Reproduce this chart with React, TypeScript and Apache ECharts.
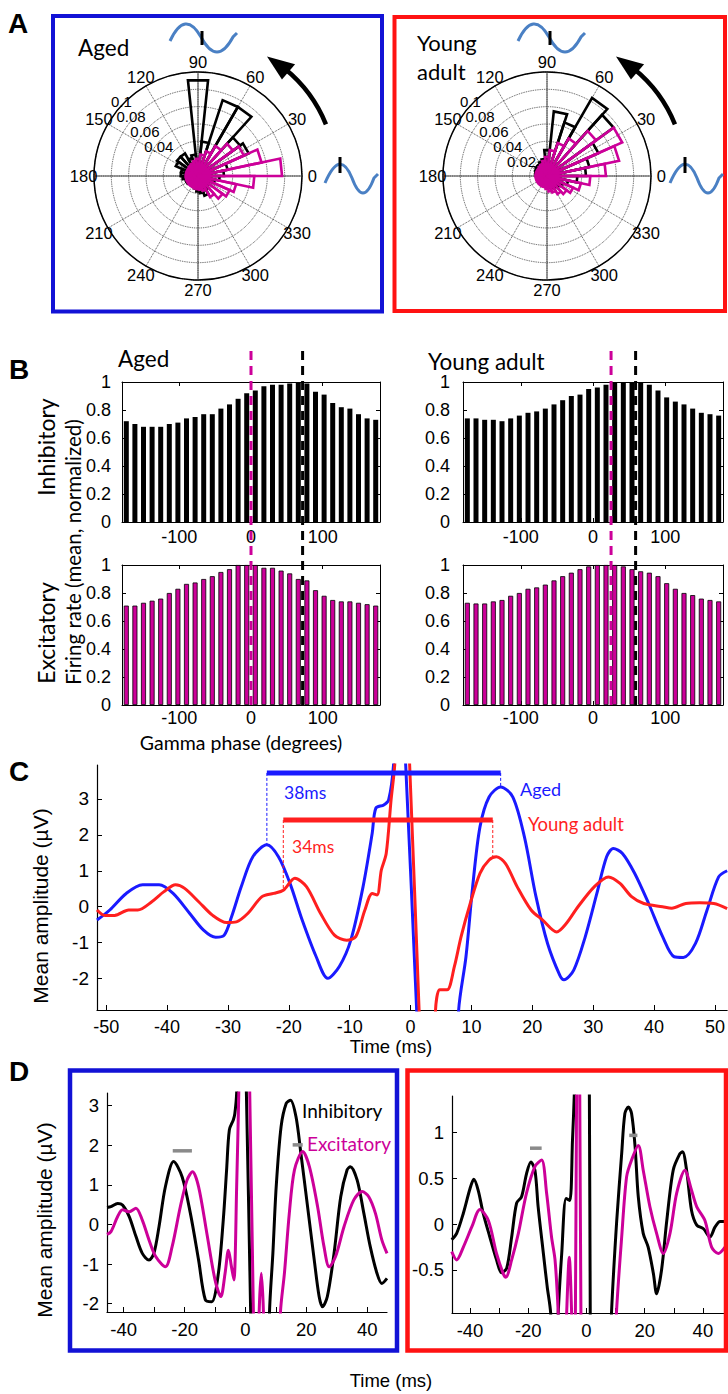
import React, { useEffect, useRef } from 'react';
import * as echarts from 'echarts';

// ---------------- Panel A : rose histograms (12 degree bins) ----------------
const ROSE_BIN_CENTERS = [6, 18, 30, 42, 54, 66, 78, 90, 102, 114, 126, 138, 150, 162, 174, 186, 198, 210, 222, 234, 246, 258, 270, 282, 294, 306, 318, 330, 342, 354];
const ROSE_BIN_HALF = 6;
const ROSE_R_MAX = 0.12;
const ROSE_AGED_INH = [0.03, 0.035, 0.064, 0.06, 0.092, 0.092, 0.04, 0.111, 0.025, 0.022, 0.03, 0.03, 0.028, 0.02, 0.02, 0.018, 0.015, 0.015, 0.012, 0.012, 0.012, 0.015, 0.018, 0.02, 0.024, 0.018, 0.015, 0.015, 0.02, 0.025];
const ROSE_AGED_EXC = [0.097, 0.075, 0.058, 0.05, 0.04, 0.03, 0.025, 0.02, 0.018, 0.016, 0.015, 0.014, 0.014, 0.014, 0.014, 0.014, 0.014, 0.014, 0.014, 0.014, 0.014, 0.015, 0.015, 0.016, 0.018, 0.028, 0.035, 0.04, 0.045, 0.065];
const ROSE_YOUNG_INH = [0.045, 0.05, 0.065, 0.095, 0.104, 0.065, 0.075, 0.03, 0.02, 0.018, 0.016, 0.016, 0.015, 0.014, 0.013, 0.012, 0.012, 0.012, 0.012, 0.012, 0.012, 0.012, 0.013, 0.014, 0.015, 0.016, 0.018, 0.02, 0.025, 0.035];
const ROSE_YOUNG_EXC = [0.068, 0.085, 0.095, 0.07, 0.05, 0.04, 0.03, 0.022, 0.018, 0.015, 0.014, 0.013, 0.013, 0.013, 0.013, 0.013, 0.013, 0.013, 0.013, 0.013, 0.013, 0.013, 0.015, 0.018, 0.02, 0.024, 0.028, 0.033, 0.04, 0.05];
const RADIUS_LABELS_AGED = [0.04, 0.06, 0.08, 0.1];
const RADIUS_LABELS_YOUNG = [0.02, 0.04, 0.06, 0.08, 0.1];
const ANGLE_LABELS = [0, 30, 60, 90, 120, 150, 180, 210, 240, 270, 300, 330];
const SOLID_SPOKES = [0, 90];

// ---------------- Panel B : firing rate vs gamma phase ----------------
const PHASE_CENTERS = [-174, -162, -150, -138, -126, -114, -102, -90, -78, -66, -54, -42, -30, -18, -6, 6, 18, 30, 42, 54, 66, 78, 90, 102, 114, 126, 138, 150, 162, 174];
const B_AGED_INH = [0.72, 0.70, 0.68, 0.68, 0.68, 0.70, 0.71, 0.74, 0.75, 0.77, 0.77, 0.81, 0.84, 0.88, 0.92, 0.94, 0.97, 0.98, 0.98, 0.99, 1.0, 0.99, 0.93, 0.91, 0.85, 0.82, 0.81, 0.77, 0.74, 0.73];
const B_AGED_EXC = [0.71, 0.71, 0.73, 0.745, 0.76, 0.80, 0.83, 0.865, 0.875, 0.90, 0.92, 0.95, 0.97, 1.0, 1.0, 1.0, 0.98, 0.98, 0.96, 0.94, 0.90, 0.89, 0.82, 0.78, 0.75, 0.74, 0.74, 0.73, 0.72, 0.71];
const B_YOUNG_INH = [0.74, 0.74, 0.73, 0.73, 0.72, 0.74, 0.76, 0.78, 0.79, 0.81, 0.84, 0.87, 0.90, 0.91, 0.95, 0.96, 0.98, 1.0, 1.0, 1.0, 1.0, 0.98, 0.94, 0.89, 0.86, 0.84, 0.81, 0.78, 0.77, 0.76];
const B_YOUNG_EXC = [0.73, 0.725, 0.725, 0.74, 0.75, 0.78, 0.80, 0.83, 0.84, 0.86, 0.89, 0.92, 0.945, 0.97, 0.99, 1.0, 1.0, 1.0, 0.99, 0.97, 0.955, 0.945, 0.92, 0.87, 0.83, 0.80, 0.785, 0.76, 0.75, 0.74];
const B_PEAK_AGED_EXC = 0;
const B_PEAK_AGED_INH = 72;
const B_PEAK_YOUNG_EXC = 25;
const B_PEAK_YOUNG_INH = 59;
const B_X_TICKS = [-100, 0, 100];

// ---------------- Panel C : mean amplitude, aged vs young ----------------
const C_AGED = [[-51.5, -0.37], [-49.4, -0.09], [-46.7, 0.37], [-44, 0.61], [-41.3, 0.61], [-39, 0.37], [-36.3, -0.18], [-34, -0.65], [-32, -0.85], [-30.6, -0.79], [-29.4, -0.28], [-27.8, 0.56], [-25.9, 1.39], [-23.6, 1.72], [-21.7, 1.39], [-19.8, 0.65], [-17.8, -0.37], [-15.5, -1.39], [-13.6, -1.99], [-11.7, -1.66], [-9.8, -0.92], [-7.8, 0.56], [-6.3, 2.04], [-5.7, 2.74], [-4.4, 2.83], [-3.6, 2.97], [-2.8, 3.94], [-2.3, 6], [-1.3, 6], [-0.8, 3.94], [1.0, -2.87], [1.5, -6], [7.4, -6], [7.9, -2.87], [9.1, -1.39], [10.2, 0.56], [11.4, 2.22], [12.9, 3.05], [14.8, 3.33], [16.8, 3.05], [18.7, 1.94], [20.6, 0.28], [22.5, -1.02], [24.5, -1.9], [25.2, -2.03], [26.8, -1.76], [28.7, -0.83], [30.6, 0.37], [32.2, 1.39], [33.3, 1.62], [34.8, 1.48], [36.8, 0.93], [39.1, 0.09], [41.4, -0.83], [43.3, -1.39], [44.8, -1.41], [46.8, -1.02], [48.7, -0.09], [50.6, 0.83], [52, 1.0]];
const C_YOUNG = [[-51.5, -0.09], [-50.2, -0.24], [-48.6, -0.24], [-46.3, -0.09], [-44.8, -0.09], [-42.5, 0.14], [-40.5, 0.42], [-38.6, 0.61], [-37.1, 0.51], [-34.8, 0.14], [-32.5, -0.24], [-30.2, -0.44], [-28.6, -0.42], [-26.7, -0.18], [-24.4, 0.28], [-22.5, 0.37], [-20.9, 0.46], [-19.0, 0.79], [-17.1, 0.56], [-14.8, -0.18], [-12.5, -0.79], [-10.5, -0.93], [-9.0, -0.83], [-7.5, -0.09], [-6.3, 0.37], [-5.5, 0.33], [-4.8, 1.02], [-4.0, 1.48], [-3.2, 2.97], [-2.6, 3.94], [-2.1, 6], [-0.6, 6], [-0.15, 3.94], [1.4, -2.87], [1.9, -6], [3.6, -6], [4.1, -2.87], [4.8, -2.31], [6.0, -2.31], [7.2, -1.66], [8.3, -0.83], [9.8, 0.09], [11.4, 0.93], [12.9, 1.3], [14.1, 1.39], [15.6, 1.2], [17.5, 0.56], [19.8, -0.09], [21.7, -0.37], [24.0, -0.7], [25.6, -0.46], [27.5, 0.0], [30.2, 0.56], [32.5, 0.83], [34.4, 0.65], [36.3, 0.28], [38.3, 0.09], [41.4, 0.0], [42.9, -0.04], [45.2, 0.09], [47.5, 0.11], [49.8, 0.09], [52, -0.05]];
const C_SPAN_AGED = [[-23.6, 14.8, 3.72]];
const C_SPAN_YOUNG = [[-20.9, 13.5, 2.41]];
const C_DROP_AGED = [[-23.6, 3.72, 1.72], [14.8, 3.72, 3.33]];
const C_DROP_YOUNG = [[-20.9, 2.41, 0.5], [13.5, 2.41, 1.34]];
const C_X_TICKS = [-50, -40, -30, -20, -10, 0, 10, 20, 30, 40, 50];
const C_Y_TICKS = [-2, -1, 0, 1, 2, 3];

// ---------------- Panel D : inhibitory vs excitatory ----------------
const D_AGED_INH = [[-45.5, 0.43], [-44.2, 0.45], [-42, 0.53], [-40.4, 0.49], [-38.2, 0.2], [-36, -0.3], [-33.9, -0.73], [-31.7, -0.9], [-30.1, -0.73], [-28.4, -0.05], [-26.3, 0.96], [-23.6, 1.59], [-20.8, 1.2], [-18.1, 0.28], [-15.4, -0.9], [-13.2, -1.9], [-11.1, -1.95], [-8.9, -1.23], [-7.3, 0.11], [-6.2, 1.38], [-5.3, 2.39], [-4, 2.64], [-3.5, 2.8], [-2.9, 3.32], [-2.5, 5], [-0.2, 5], [0.3, 3.32], [1.7, -2.21], [2.2, -5], [7.4, -5], [7.9, -2.21], [9.0, -0.73], [10.1, 0.96], [11.7, 2.47], [13.4, 3.06], [14.8, 3.14], [16.6, 2.72], [18.2, 1.8], [20.4, 0.45], [22.6, -0.9], [24.2, -1.82], [25.3, -2.08], [26.9, -1.82], [29.1, -0.73], [31.3, 0.7], [33.4, 1.38], [34.5, 1.46], [36.7, 1.12], [38.9, 0.28], [41, -0.56], [43.2, -1.23], [44.8, -1.49], [46.5, -1.36]];
const D_AGED_EXC = [[-45.5, -0.25], [-44.2, -0.18], [-42, 0.2], [-40.4, 0.37], [-38.2, 0.32], [-36, 0.41], [-33.9, 0.11], [-31.7, -0.39], [-29.5, -0.81], [-26.3, -1.07], [-24.1, -0.56], [-21.4, 0.45], [-19.2, 1.12], [-17.4, 1.33], [-15.4, 0.95], [-12.7, -0.22], [-10, -1.4], [-8.1, -1.82], [-6.7, -1.23], [-5.6, -0.65], [-4.6, -1.07], [-3.8, -1.4], [-2.9, 0.95], [-2.2, 3.32], [-1.8, 5], [0.9, 5], [1.4, 3.32], [2.6, -2.21], [3.0, -4], [4.2, -4], [4.5, -2.21], [5.2, -1.23], [5.9, -2.21], [6.3, -4], [11.0, -4], [11.5, -2.21], [12.8, -1.23], [14.4, 0.28], [16.1, 1.38], [18.8, 1.84], [21, 1.46], [23.7, 0.45], [25.8, -0.56], [27.5, -1.07], [29.6, -0.81], [32.4, -0.05], [35.6, 0.62], [38.3, 0.83], [40.5, 0.7], [42.7, 0.28], [44.8, -0.39], [46.5, -0.73]];
const D_YOUNG_INH = [[-46.3, -0.17], [-44.6, -0.1], [-42.3, 0.12], [-40, 0.39], [-38.7, 0.49], [-37.2, 0.37], [-35.5, 0.12], [-33.2, -0.14], [-30.9, -0.39], [-29.2, -0.53], [-27.4, -0.48], [-25.7, -0.14], [-24, 0.23], [-22.3, 0.3], [-20.6, 0.55], [-19.1, 0.68], [-17.7, 0.59], [-16.6, 0.19], [-14.8, -0.32], [-13.5, -0.68], [-12.3, -0.97], [-11.8, -1.5], [-10.2, -1.5], [-9.7, -0.97], [-8.5, -0.32], [-7.0, 0.28], [-5.7, 0.26], [-4.8, 0.92], [-4.2, 1.4], [-3.8, 2], [0.6, 2], [1.0, 1.4], [1.3, -0.97], [1.6, -1.5], [8.2, -1.5], [8.6, -0.97], [10.4, 0.04], [12.1, 0.77], [13.2, 1.21], [14.4, 1.28], [15.5, 1.21], [16.7, 0.85], [17.8, 0.3], [19.5, -0.1], [21.2, -0.25], [23.0, -0.54], [24.1, -0.76], [25.8, -0.5], [27.6, 0.04], [29.8, 0.59], [32.1, 0.77], [33.0, 0.79], [34.4, 0.59], [36.1, 0.15], [37.9, -0.01], [40.2, -0.05], [42.4, -0.14], [44.2, -0.03], [45.9, 0.03], [47.6, 0.03]];
const D_YOUNG_EXC = [[-46.3, -0.3], [-44.6, -0.39], [-42.3, -0.25], [-39.4, -0.03], [-36.6, 0.16], [-33.7, 0.04], [-30.9, -0.32], [-28.6, -0.54], [-27.7, -0.58], [-25.7, -0.39], [-23.4, -0.1], [-20.6, 0.34], [-17.7, 0.63], [-15.4, 0.7], [-13.7, 0.34], [-12.0, -0.14], [-10.8, -0.39], [-9.7, -0.97], [-9.2, -1.5], [-7.2, -1.5], [-6.8, -0.97], [-5.9, -0.36], [-5.1, -0.97], [-4.8, -1.5], [-4.1, -1.5], [-3.8, -0.97], [-3.4, 1.4], [-3.2, 2], [-2.6, 2], [-2.3, 1.4], [-1.9, -0.97], [-1.5, -1.5], [9.8, -1.5], [10.3, -0.97], [12.1, -0.14], [13.8, 0.52], [15.5, 0.7], [17.8, 0.86], [19.5, 0.59], [21.8, 0.19], [24.1, -0.1], [26.4, -0.32], [28.7, -0.1], [31, 0.34], [33.8, 0.59], [36.1, 0.37], [37.9, 0.19], [40.7, 0.04], [43.0, -0.25], [45.3, -0.32], [47.6, -0.25]];
const D_AGED_MARKS = [[-23.9, -17.6, 1.86], [15.5, 18.8, 2.01]];
const D_YOUNG_MARKS = [[-19.4, -15.4, 0.83], [14.7, 17.5, 0.97]];
const D_X_TICKS = [-40, -30, -20, -10, 0, 10, 20, 30, 40];
const D_X_LABELS = [-40, -20, 0, 20, 40];
const D_AGED_Y_TICKS = [-2, -1, 0, 1, 2, 3];
const D_YOUNG_Y_TICKS = [-0.5, 0, 0.5, 1];

// ---------------- styling ----------------
const NUM_FONT = '"Liberation Sans", Arial, sans-serif';
const TXT_FONT = 'Lato, "Open Sans", sans-serif';
const BOX_BLUE = '#1212d6';
const BOX_RED = '#ff1212';
const LINE_BLUE = '#1a1aff';
const LINE_RED = '#ff1f1f';
const MAGENTA = '#cc0099';
const WAVE_BLUE = '#4a80c4';
const GRID_DOT = '#333';

echarts.graphic.registerShape('waveTop', echarts.graphic.extendPath('M0 4 Q15 -28 31 0 Q47 30 63 0 Q65 -2 67 -4', {}));
echarts.graphic.registerShape('waveSide', echarts.graphic.extendPath('M0 5 Q15 -30 27 0 Q38 30 49 0 Q51 -2 53 -4', {}));

function txt(text: string, x: number, y: number, size: number, opts: any = {}) {
  return {
    type: 'text', x, y, rotation: opts.rot || 0, z: 50,
    style: {
      text, fontSize: size, fontFamily: opts.font || TXT_FONT, fontWeight: opts.bold ? 'bold' : 'normal',
      fill: opts.color || '#000', align: opts.align || 'left', verticalAlign: 'middle',
    },
  };
}

function roseSeries(polarIndex: number, values: number[], color: string, z: number) {
  return {
    type: 'custom', coordinateSystem: 'polar', polarIndex, z, silent: true,
    data: values.map((v, i) => [v, ROSE_BIN_CENTERS[i]]),
    renderItem: (params: any, api: any) => {
      const r = api.value(0);
      const a = api.value(1);
      const c = api.coord([0, a]);
      const p1 = api.coord([r, a - ROSE_BIN_HALF]);
      const p2 = api.coord([r, a + ROSE_BIN_HALF]);
      return { type: 'polygon', shape: { points: [c, p1, p2] }, style: { fill: 'none', stroke: color, lineWidth: 2.6, lineJoin: 'miter' } };
    },
  };
}

function spokeSeries(polarIndex: number) {
  return {
    type: 'custom', coordinateSystem: 'polar', polarIndex, z: 1, silent: true,
    data: SOLID_SPOKES.map((a) => [ROSE_R_MAX, a]),
    renderItem: (params: any, api: any) => {
      const p1 = api.coord([api.value(0), api.value(1)]);
      const p2 = api.coord([api.value(0), api.value(1) + 180]);
      return { type: 'line', shape: { x1: p1[0], y1: p1[1], x2: p2[0], y2: p2[1] }, style: { stroke: '#444', lineWidth: 0.9 } };
    },
  };
}

// text placed along a ray: scale the distance from the polar centre
function polarTextSeries(polarIndex: number, data: number[][], scale: number, align: string, size: number, dx: number, label: (v: number[]) => string) {
  return {
    type: 'custom', coordinateSystem: 'polar', polarIndex, z: 6, silent: true, data,
    renderItem: (params: any, api: any) => {
      const r = api.value(0);
      const a = api.value(1);
      const c = api.coord([0, a]);
      const p = api.coord([r, a]);
      const x = c[0] + (p[0] - c[0]) * scale + dx;
      const y = c[1] + (p[1] - c[1]) * scale;
      return { type: 'text', x, y, style: { text: label([r, a]), fontSize: size, fontFamily: NUM_FONT, fill: '#000', align, verticalAlign: 'middle' } };
    },
  };
}

function polarAxes(polarIndex: number) {
  return {
    angle: {
      polarIndex, type: 'value', min: 0, max: 360, interval: 30, startAngle: 0, clockwise: false,
      axisLine: { show: true, lineStyle: { color: '#000', width: 1.5 } },
      axisTick: { show: false },
      axisLabel: { show: false },
      splitLine: { show: true, lineStyle: { color: GRID_DOT, width: 0.9, type: 'dotted' } },
    },
    radius: {
      polarIndex, type: 'value', min: 0, max: ROSE_R_MAX, interval: 0.02,
      axisLine: { show: false }, axisTick: { show: false }, axisLabel: { show: false },
      splitLine: { show: true, lineStyle: { color: GRID_DOT, width: 0.9, type: 'dotted' } },
    },
  };
}

function bX(gridIndex: number, position: string, labels: boolean, margin: number) {
  return {
    type: 'value', gridIndex, position, min: -180, max: 180,
    axisLine: { show: true, onZero: false, lineStyle: { color: '#000', width: 1 } },
    axisTick: { show: true, inside: true, length: 4, customValues: B_X_TICKS, lineStyle: { color: '#000' } },
    axisLabel: { show: labels, customValues: B_X_TICKS, fontSize: 18, fontFamily: NUM_FONT, color: '#000', margin },
    splitLine: { show: false },
  };
}
function bY(gridIndex: number, position: string, labels: boolean, margin: number) {
  return {
    type: 'value', gridIndex, position, min: 0, max: 1, interval: 0.2,
    axisLine: { show: true, onZero: false, lineStyle: { color: '#000', width: 1 } },
    axisTick: { show: true, inside: true, length: 4, lineStyle: { color: '#000' } },
    axisLabel: { show: labels, fontSize: 18, fontFamily: NUM_FONT, color: '#000', margin },
    splitLine: { show: false },
  };
}
function hidden(gridIndex: number, min: number, max: number) {
  return { type: 'value', gridIndex, min, max, show: false, splitLine: { show: false } };
}
function valAxis(gridIndex: number, min: number, max: number, ticks: number[], labels: number[], size: number) {
  return {
    type: 'value', gridIndex, min, max,
    axisLine: { show: true, onZero: false, lineStyle: { color: '#000', width: 1.2 } },
    axisTick: { show: true, inside: true, length: 5, customValues: ticks, lineStyle: { color: '#000' } },
    axisLabel: { show: true, customValues: labels, fontSize: size, fontFamily: NUM_FONT, color: '#000', margin: 8 },
    splitLine: { show: false },
  };
}

function barSeries(axis: number, values: number[], color: string, border: boolean) {
  return {
    type: 'bar', xAxisIndex: axis, yAxisIndex: axis, barWidth: 5, z: 2, silent: true,
    data: PHASE_CENTERS.map((p, i) => [p, values[i]]),
    itemStyle: { color, borderColor: '#000', borderWidth: border ? 0.8 : 0 },
  };
}

function vLineSeries(axis: number, data: number[][], color: string, width: number, dash: number[], z: number) {
  return {
    type: 'custom', xAxisIndex: axis, yAxisIndex: axis, z, silent: true, data,
    renderItem: (params: any, api: any) => {
      const a = api.coord([api.value(0), api.value(1)]);
      const b = api.coord([api.value(0), api.value(2)]);
      return { type: 'line', shape: { x1: a[0], y1: a[1], x2: b[0], y2: b[1] }, style: { stroke: color, lineWidth: width, lineDash: dash } };
    },
  };
}
function hLineSeries(axis: number, data: number[][], color: string, width: number, z: number) {
  return {
    type: 'custom', xAxisIndex: axis, yAxisIndex: axis, z, silent: true, data,
    renderItem: (params: any, api: any) => {
      const a = api.coord([api.value(0), api.value(2)]);
      const b = api.coord([api.value(1), api.value(2)]);
      return { type: 'line', shape: { x1: a[0], y1: a[1], x2: b[0], y2: b[1] }, style: { stroke: color, lineWidth: width } };
    },
  };
}
function traceSeries(axis: number, data: number[][], color: string, z: number) {
  return {
    type: 'line', xAxisIndex: axis, yAxisIndex: axis, data, showSymbol: false, symbol: 'none', smooth: 0.3,
    clip: true, z, silent: true, lineStyle: { color, width: 3 },
  };
}

function arrowGraphics(cx: number, cy: number) {
  const rad = Math.PI / 180;
  const R = 138;
  const pt = (ang: number, r: number) => [cx + r * Math.cos(ang * rad), cy - r * Math.sin(ang * rad)];
  return [
    { type: 'arc', z: 40, shape: { cx, cy, r: R, startAngle: -51 * rad, endAngle: -22 * rad, clockwise: true }, style: { stroke: '#000', lineWidth: 4.5, fill: 'none' } },
    { type: 'polygon', z: 40, shape: { points: [pt(60, R), pt(49, R - 10), pt(49, R + 10)] }, style: { fill: '#000' } },
  ];
}

function waveGraphics(dx: number, dxSide: number) {
  return [
    { type: 'waveTop', x: 170 + dx, y: 37, z: 40, style: { stroke: WAVE_BLUE, lineWidth: 3, fill: 'none' } },
    { type: 'rect', z: 41, shape: { x: 200.5 + dx, y: 31, width: 3, height: 14 }, style: { fill: '#000' } },
    { type: 'waveSide', x: 325 + dxSide, y: 178, z: 40, style: { stroke: WAVE_BLUE, lineWidth: 3, fill: 'none' } },
    { type: 'rect', z: 41, shape: { x: 338.5 + dxSide, y: 157, width: 3, height: 16 }, style: { fill: '#000' } },
  ];
}

export default function App() {
  const ref = useRef<HTMLDivElement>(null);
  useEffect(() => {
    if (!ref.current) return;
    const chart = echarts.init(ref.current, null, { renderer: 'svg' });
    const pa0 = polarAxes(0);
    const pa1 = polarAxes(1);
    const rot = Math.PI / 2;
    const angleData = ANGLE_LABELS.map((a) => [ROSE_R_MAX, a]);
    const angleLabel = (v: number[]) => String(v[1]);
    const radiusLabel = (v: number[]) => String(v[0]);

    const graphic: any[] = [
      txt('A', 8, 23, 28, { bold: true, font: NUM_FONT }),
      txt('B', 9, 369, 28, { bold: true, font: NUM_FONT }),
      txt('C', 9, 771, 28, { bold: true, font: NUM_FONT }),
      txt('D', 9, 1071, 28, { bold: true, font: NUM_FONT }),
      { type: 'rect', z: 30, shape: { x: 53, y: 16, width: 329, height: 295.5 }, style: { fill: 'none', stroke: BOX_BLUE, lineWidth: 4 } },
      { type: 'rect', z: 30, shape: { x: 394.5, y: 17, width: 330.5, height: 294 }, style: { fill: 'none', stroke: BOX_RED, lineWidth: 4 } },
      { type: 'rect', z: 30, shape: { x: 70, y: 1070.5, width: 327, height: 280 }, style: { fill: 'none', stroke: BOX_BLUE, lineWidth: 4.5 } },
      { type: 'rect', z: 30, shape: { x: 407.5, y: 1070.5, width: 318.5, height: 280 }, style: { fill: 'none', stroke: BOX_RED, lineWidth: 4.5 } },
      txt('Aged', 78, 47, 22.5),
      txt('Young', 417, 42, 22),
      txt('adult', 417, 71, 22),
      txt('Aged', 118, 358, 22.5),
      txt('Young adult', 428, 361, 22.5),
      txt('Inhibitory', 46, 447, 23, { rot, align: 'center' }),
      txt('Excitatory', 46, 633, 23, { rot, align: 'center' }),
      txt('Firing rate (mean, normalized)', 73, 552, 20.5, { rot, align: 'center' }),
      txt('Gamma phase (degrees)', 241, 742, 19.5, { align: 'center' }),
      txt('Mean amplitude (\u00b5V)', 40, 906, 21, { rot, align: 'center', font: NUM_FONT }),
      txt('Time (ms)', 391, 1046, 18.5, { align: 'center', font: NUM_FONT }),
      txt('38ms', 284, 792, 17.5, { color: LINE_BLUE }),
      txt('34ms', 292, 846, 17.5, { color: LINE_RED }),
      txt('Aged', 520, 789, 18, { color: LINE_BLUE }),
      txt('Young adult', 528, 824, 18.5, { color: LINE_RED }),
      txt('Mean amplitude (\u00b5V)', 44, 1220, 21, { rot, align: 'center', font: NUM_FONT }),
      txt('Time (ms)', 391, 1380, 18.5, { align: 'center', font: NUM_FONT }),
      txt('Inhibitory', 302, 1110, 19),
      txt('Excitatory', 307, 1143, 19, { color: MAGENTA }),
      ...arrowGraphics(198, 176),
      ...arrowGraphics(547, 176),
      ...waveGraphics(0, 0),
      ...waveGraphics(348, 345),
    ];

    const option: any = {
      animation: false,
      backgroundColor: '#fff',
      polar: [
        { center: [198, 176], radius: 104 },
        { center: [547, 176], radius: 104 },
      ],
      angleAxis: [pa0.angle, pa1.angle],
      radiusAxis: [pa0.radius, pa1.radius],
      grid: [
        { left: 122, top: 382, width: 258, height: 140 },
        { left: 122, top: 565, width: 258, height: 140 },
        { left: 463, top: 382, width: 260, height: 140 },
        { left: 463, top: 565, width: 260, height: 140 },
        { left: 122, top: 345, width: 258, height: 360 },
        { left: 463, top: 345, width: 260, height: 360 },
        { left: 97, top: 765, width: 631, height: 245 },
        { left: 107, top: 1093, width: 280, height: 219 },
        { left: 452, top: 1096, width: 273, height: 217 },
      ],
      xAxis: [
        bX(0, 'bottom', true, 6), bX(0, 'top', false, 6),
        bX(1, 'bottom', true, 4), bX(1, 'top', false, 6),
        bX(2, 'bottom', true, 6), bX(2, 'top', false, 6),
        bX(3, 'bottom', true, 4), bX(3, 'top', false, 6),
        hidden(4, -180, 180), hidden(5, -180, 180),
        valAxis(6, -51.5, 52, C_X_TICKS, C_X_TICKS, 18),
        valAxis(7, -45.5, 46.5, D_X_TICKS, D_X_LABELS, 18.5),
        valAxis(8, -46.2, 47.6, D_X_TICKS, D_X_LABELS, 18.5),
      ],
      yAxis: [
        bY(0, 'left', true, 11), bY(0, 'right', false, 8),
        bY(1, 'left', true, 11), bY(1, 'right', false, 8),
        bY(2, 'left', true, 13), bY(2, 'right', false, 8),
        bY(3, 'left', true, 13), bY(3, 'right', false, 8),
        hidden(4, 0, 1), hidden(5, 0, 1),
        valAxis(6, -2.87, 3.94, C_Y_TICKS, C_Y_TICKS, 19),
        valAxis(7, -2.21, 3.32, D_AGED_Y_TICKS, D_AGED_Y_TICKS, 18.5),
        valAxis(8, -0.97, 1.4, D_YOUNG_Y_TICKS, D_YOUNG_Y_TICKS, 18.5),
      ],
      graphic: { elements: graphic },
      series: [
        spokeSeries(0), spokeSeries(1),
        roseSeries(0, ROSE_AGED_INH, '#000', 3),
        roseSeries(0, ROSE_AGED_EXC, MAGENTA, 4),
        roseSeries(1, ROSE_YOUNG_INH, '#000', 3),
        roseSeries(1, ROSE_YOUNG_EXC, MAGENTA, 4),
        polarTextSeries(0, angleData, 1.1, 'center', 16.5, 0, angleLabel),
        polarTextSeries(1, angleData, 1.1, 'center', 16.5, 0, angleLabel),
        polarTextSeries(0, RADIUS_LABELS_AGED.map((v) => [v, 133]), 1.17, 'right', 15, 3, radiusLabel),
        polarTextSeries(1, RADIUS_LABELS_YOUNG.map((v) => [v, 133]), 1.17, 'right', 15, 3, radiusLabel),
        barSeries(0, B_AGED_INH, '#000', false),
        barSeries(2, B_AGED_EXC, MAGENTA, true),
        barSeries(4, B_YOUNG_INH, '#000', false),
        barSeries(6, B_YOUNG_EXC, MAGENTA, true),
        vLineSeries(8, [[B_PEAK_AGED_EXC, 0, 1]], MAGENTA, 3, [9, 6], 8),
        vLineSeries(8, [[B_PEAK_AGED_INH, 0, 1]], '#000', 3, [9, 6], 8),
        vLineSeries(9, [[B_PEAK_YOUNG_EXC, 0, 1]], MAGENTA, 3, [9, 6], 8),
        vLineSeries(9, [[B_PEAK_YOUNG_INH, 0, 1]], '#000', 3, [9, 6], 8),
        traceSeries(10, C_AGED, LINE_BLUE, 3),
        traceSeries(10, C_YOUNG, LINE_RED, 4),
        hLineSeries(10, C_SPAN_AGED, LINE_BLUE, 5, 6),
        hLineSeries(10, C_SPAN_YOUNG, LINE_RED, 5, 6),
        vLineSeries(10, C_DROP_AGED, LINE_BLUE, 1, [3, 2], 5),
        vLineSeries(10, C_DROP_YOUNG, LINE_RED, 1, [3, 2], 5),
        traceSeries(11, D_AGED_INH, '#000', 3),
        traceSeries(11, D_AGED_EXC, MAGENTA, 4),
        hLineSeries(11, D_AGED_MARKS, '#8a8a8a', 3.5, 5),
        traceSeries(12, D_YOUNG_INH, '#000', 3),
        traceSeries(12, D_YOUNG_EXC, MAGENTA, 4),
        hLineSeries(12, D_YOUNG_MARKS, '#8a8a8a', 3.5, 5),
      ],
    };
    chart.setOption(option);
    return () => chart.dispose();
  }, []);
  return <div ref={ref} style={{ position: 'absolute', left: 0, top: 0, width: 728, height: 1394, background: '#fff' }} />;
}
